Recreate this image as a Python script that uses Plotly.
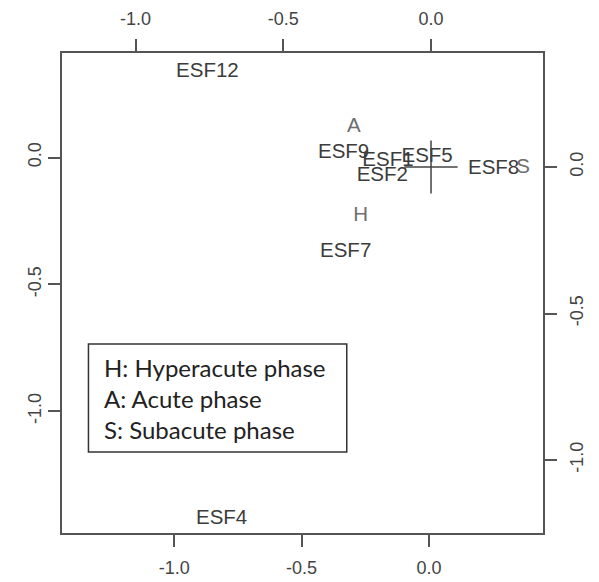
import plotly.graph_objects as go

# Row points (ESF items) on primary axes (bottom / left)
esf_labels = ["ESF12", "ESF9", "ESF1", "ESF5", "ESF2", "ESF8", "ESF7", "ESF4"]
esf_x = [-0.870, -0.335, -0.161, -0.007, -0.183, 0.254, -0.327, -0.814]
esf_y = [0.337, 0.017, -0.013, 0.004, -0.072, -0.046, -0.371, -1.423]

# Column points (phases) on secondary axes (top / right)
phase_labels = ["H", "A", "S"]
phase_x = [-0.238, -0.261, 0.312]
phase_y = [-0.167, 0.138, -0.004]

legend_lines = ["H: Hyperacute phase", "A: Acute phase", "S: Subacute phase"]

tick_vals = [-1.0, -0.5, 0.0]
tick_text = ["-1.0", "-0.5", "0.0"]

axis_font = dict(family="Liberation Sans, Arial, sans-serif", size=18, color="#444444")
line_col = "#555555"

fig = go.Figure()

fig.add_trace(go.Scatter(
    x=esf_x, y=esf_y, text=esf_labels, mode="text",
    textposition="middle center",
    textfont=dict(family="Liberation Sans, Arial, sans-serif", size=20.5, color="#3c3c3c"),
    xaxis="x", yaxis="y", showlegend=False, hoverinfo="text"))

fig.add_trace(go.Scatter(
    x=[0], y=[0], mode="markers",
    marker=dict(symbol="cross-thin-open", size=38, color="#444444",
                line=dict(width=1.5, color="#444444")),
    xaxis="x2", yaxis="y2", showlegend=False, hoverinfo="skip"))

fig.add_trace(go.Scatter(
    x=phase_x, y=phase_y, text=phase_labels, mode="text",
    textposition="middle center",
    textfont=dict(family="Liberation Sans, Arial, sans-serif", size=20.5, color="#6e6e6e"),
    xaxis="x2", yaxis="y2", showlegend=False, hoverinfo="text"))

common = dict(showgrid=False, zeroline=False, showline=True, linecolor=line_col,
              linewidth=1.5, ticks="outside", ticklen=12, tickwidth=1.5,
              tickcolor=line_col, tickfont=axis_font, automargin=False,
              tickvals=tick_vals, ticktext=tick_text)

fig.update_layout(
    width=599, height=582,
    margin=dict(l=54, r=64, t=45, b=57, autoexpand=False),
    paper_bgcolor="white", plot_bgcolor="white",
    xaxis=dict(range=[-1.441, 0.448], side="bottom", ticklabelstandoff=6, **common),
    yaxis=dict(range=[-1.480, 0.412], side="left", tickangle=-90, **common),
    xaxis2=dict(range=[-1.249, 0.379], side="top", overlaying="x", anchor="y",
                ticklabelstandoff=7, **common),
    yaxis2=dict(range=[-1.249, 0.389], side="right", overlaying="y", anchor="x",
                tickangle=-90, ticklabelstandoff=5, **common),
)

fig.add_shape(type="rect", xref="paper", yref="paper",
              x0=0.055, x1=0.592, y0=0.169, y1=0.394,
              line=dict(color="#333333", width=1.5), fillcolor="white")

for txt, yp in zip(legend_lines, [0.345, 0.281, 0.215]):
    fig.add_annotation(text=txt, xref="paper", yref="paper", x=0.0825, y=yp,
                       xanchor="left", yanchor="middle", showarrow=False,
                       font=dict(family="Lato, Open Sans, sans-serif", size=24, color="#222222"))

fig.write_html("out.html")
